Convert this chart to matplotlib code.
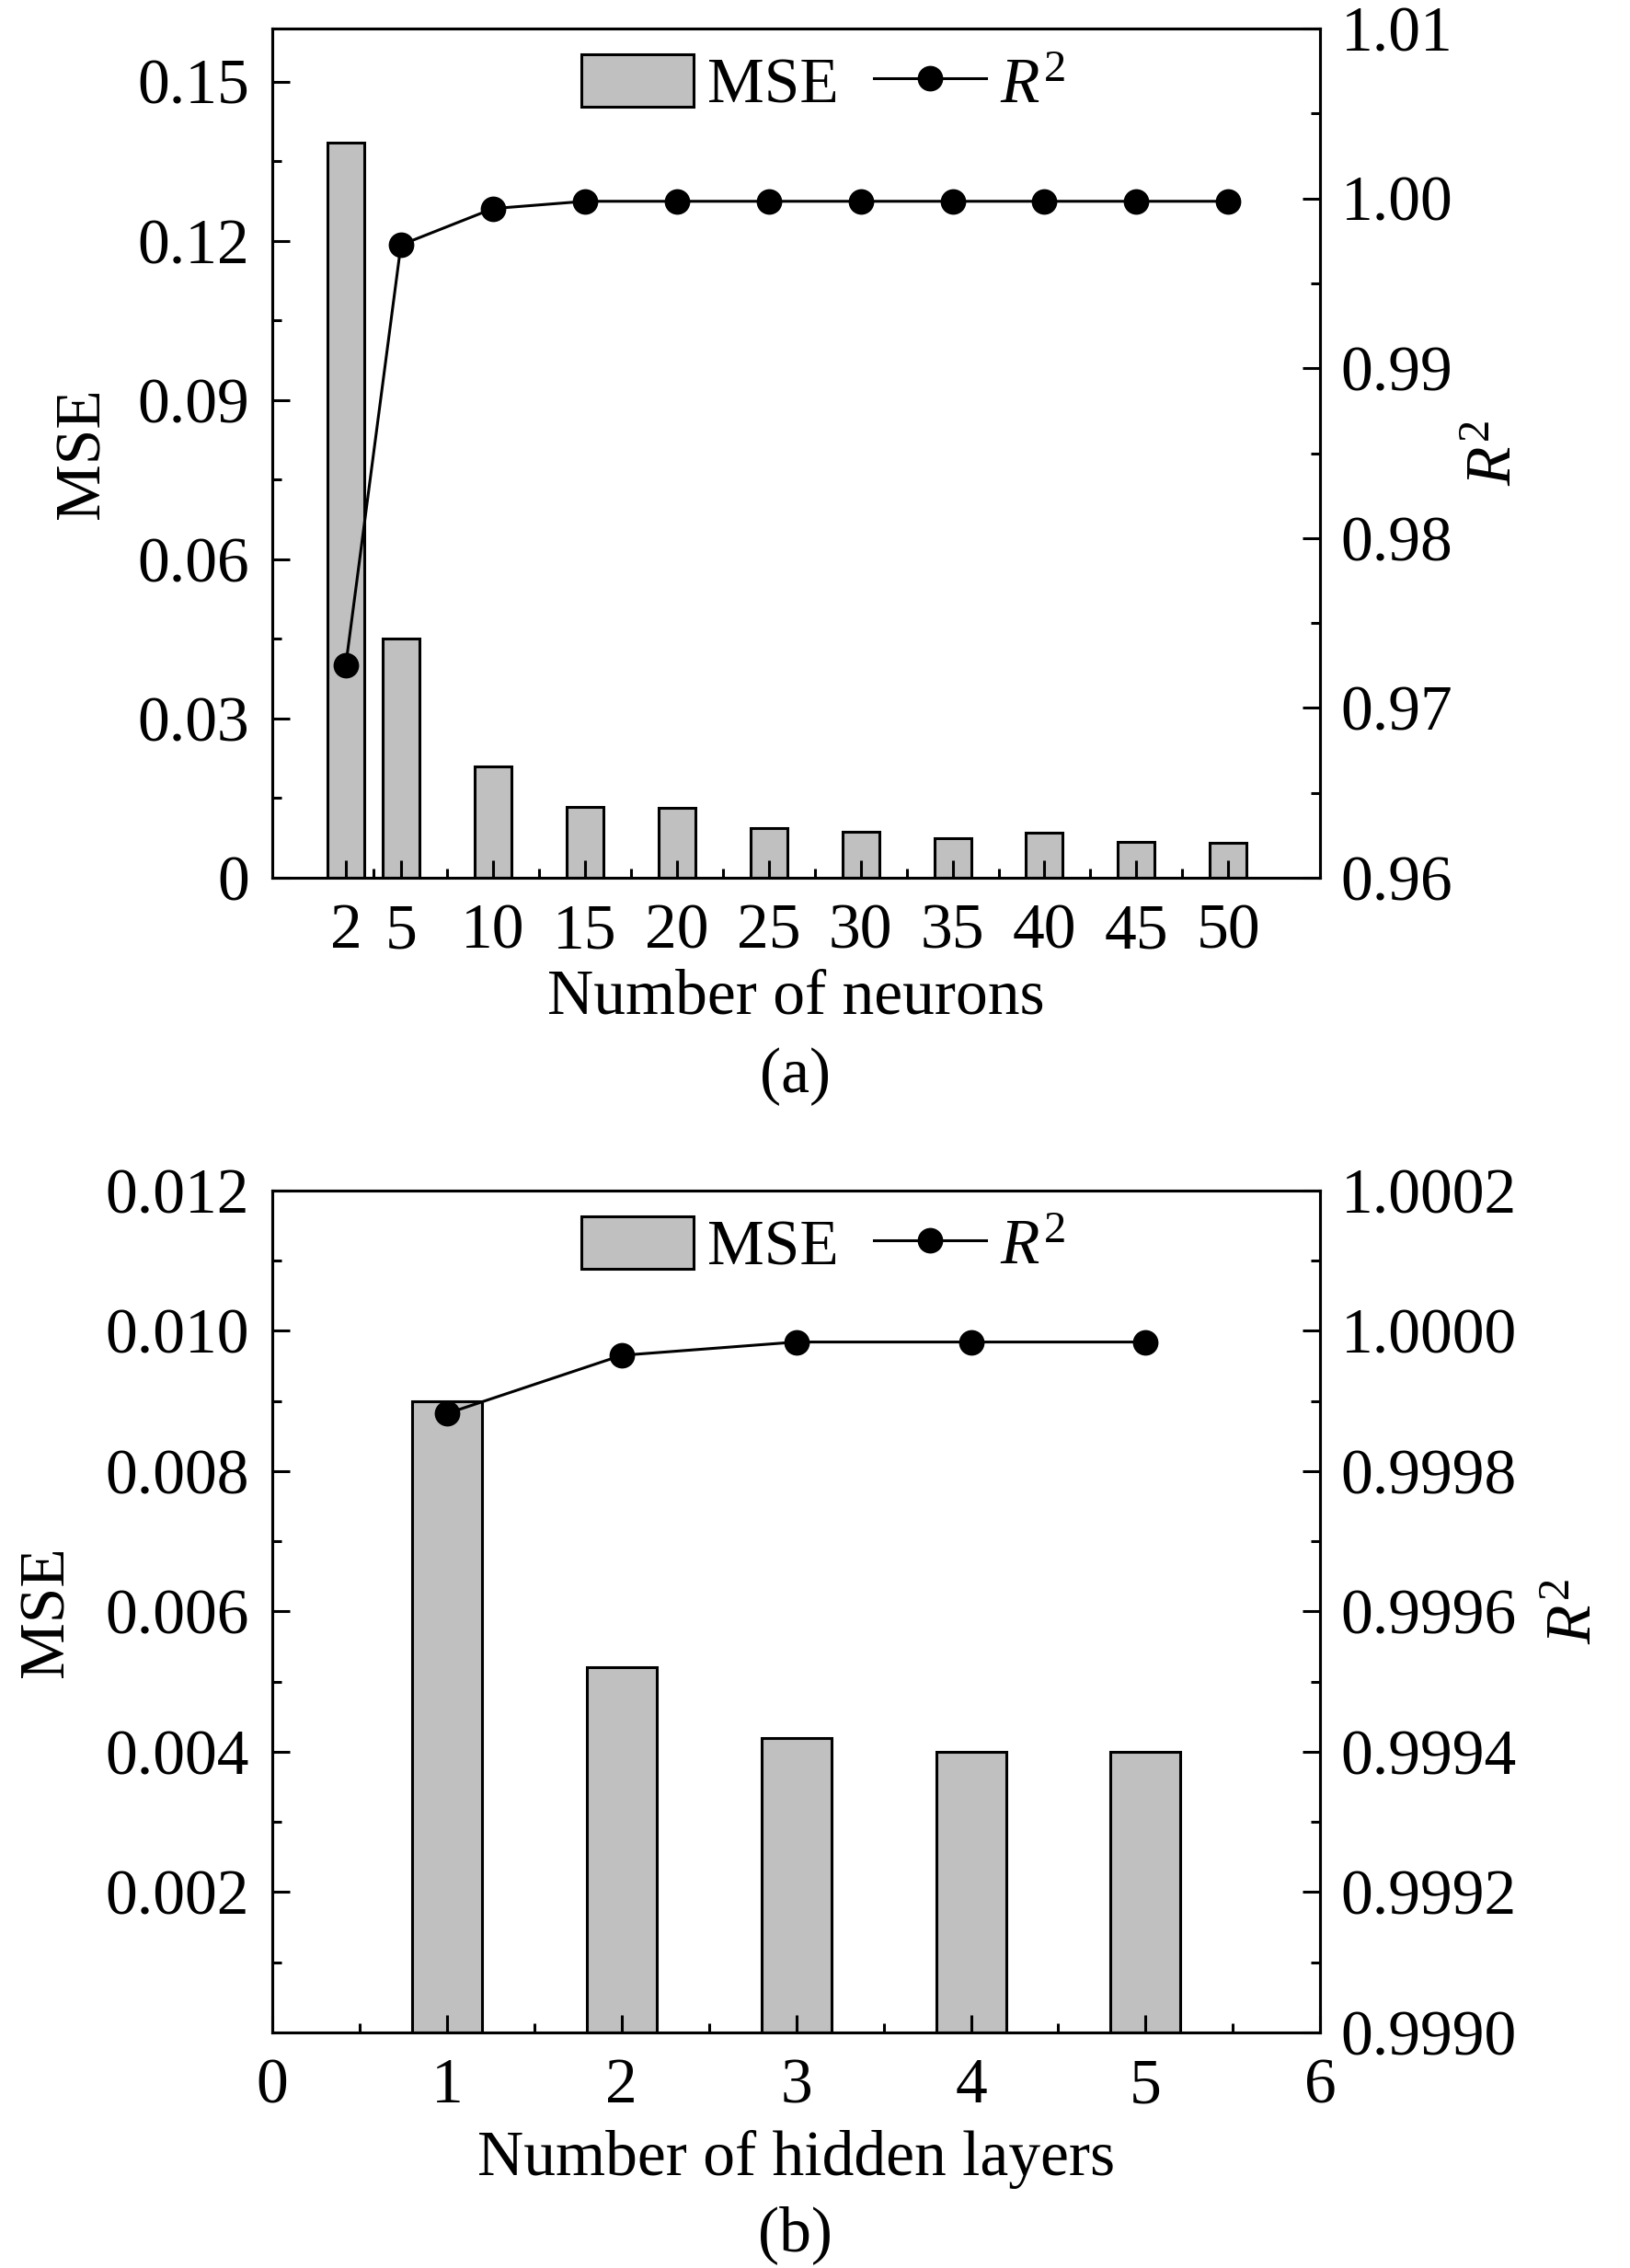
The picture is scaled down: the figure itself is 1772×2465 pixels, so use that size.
import matplotlib
matplotlib.use('Agg')
import matplotlib.pyplot as plt
from matplotlib.patches import Patch
from matplotlib.lines import Line2D
import numpy as np

plt.rcParams['font.family'] = ['Liberation Serif', 'DejaVu Serif']
plt.rcParams['mathtext.fontset'] = 'custom'
plt.rcParams['mathtext.rm'] = 'Liberation Serif'
plt.rcParams['mathtext.it'] = 'Liberation Serif:italic'
plt.rcParams['font.size'] = 25

# panel (a): number of neurons
neurons = [2, 5, 10, 15, 20, 25, 30, 35, 40, 45, 50]
mse_a = [0.1385, 0.045, 0.021, 0.0134, 0.0131, 0.0093, 0.0087, 0.0074, 0.0085, 0.0068, 0.0065]
r2_a = [0.9725, 0.99726, 0.99940, 0.99983, 0.99983, 0.99983, 0.99983, 0.99983, 0.99983, 0.99983, 0.99983]

# panel (b): number of hidden layers
layers = [1, 2, 3, 4, 5]
mse_b = [0.0090, 0.0052, 0.0042, 0.0040, 0.0040]
r2_b = [0.999882, 0.999965, 0.999984, 0.999984, 0.999984]

bar_col = '#c0c0c0'
R2 = r'$\mathit{R}^{\mathrm{2}}$'

fig = plt.figure(figsize=(8.86, 12.325), dpi=200)


def style(ax, right=False):
    for s in ax.spines.values():
        s.set_linewidth(1.1)
    ax.tick_params(which='both', direction='in', width=1.1, top=False)
    ax.tick_params(which='major', length=7)
    ax.tick_params(which='minor', length=3.5)
    if right:
        ax.tick_params(axis='y', which='both', left=False, right=True, pad=8)
    else:
        ax.tick_params(axis='y', which='both', right=False, pad=9)
        ax.tick_params(axis='x', which='both', pad=10)


def legend(ax):
    h = [Patch(facecolor=bar_col, edgecolor='black', linewidth=1.1, label='MSE'),
         Line2D([], [], color='black', lw=1.1, marker='o', markersize=9, label=R2)]
    ax.legend(handles=h, ncol=2, loc='upper center', bbox_to_anchor=(0.526, 1.0),
              frameon=False, borderaxespad=0.0, borderpad=0.4, handlelength=1.75,
              handleheight=0.9, handletextpad=0.22, columnspacing=0.55)


# ---- (a)
ax = fig.add_axes([0.167, 0.613, 0.643, 0.3744])
ax.bar(neurons, mse_a, width=2, color=bar_col, edgecolor='black', linewidth=1.1)
ax.set_xlim(-2, 55)
ax.set_ylim(0, 0.16)
ax.set_xticks(neurons)
ax.set_xticks([3.5] + list(np.arange(7.5, 50, 5)), minor=True)
ax.set_yticks([0, 0.03, 0.06, 0.09, 0.12, 0.15])
ax.set_yticklabels(['0', '0.03', '0.06', '0.09', '0.12', '0.15'])
ax.set_yticks(np.arange(0.015, 0.16, 0.03), minor=True)
style(ax)
ax.set_xlabel('Number of neurons')
ax.xaxis.set_label_coords(0.5, -0.142)
ax.xaxis.label.set_va('center')
ax.set_ylabel('MSE')
ax.yaxis.set_label_coords(-0.18, 0.5)
ax.yaxis.label.set_va('center')

ax2 = ax.twinx()
ax2.plot(neurons, r2_a, color='black', lw=1.1, marker='o', markersize=9)
ax2.set_ylim(0.96, 1.01)
ax2.set_yticks([0.96, 0.97, 0.98, 0.99, 1.00, 1.01])
ax2.set_yticklabels(['0.96', '0.97', '0.98', '0.99', '1.00', '1.01'])
ax2.set_yticks(np.arange(0.965, 1.01, 0.01), minor=True)
style(ax2, right=True)
ax2.set_ylabel(R2)
ax2.yaxis.set_label_coords(1.168, 0.5)
ax2.yaxis.label.set_va('center')
legend(ax2)
fig.text(0.488, 1 - 1170 / 2465, '(a)', ha='center', va='center')

# ---- (b)
bx = fig.add_axes([0.167, 0.1039, 0.643, 0.3712])
bx.bar(layers, mse_b, width=0.4, color=bar_col, edgecolor='black', linewidth=1.1)
bx.set_xlim(0, 6)
bx.set_ylim(0, 0.012)
bx.set_xticks(range(0, 7))
bx.set_xticks(np.arange(0.5, 6, 1), minor=True)
bx.set_yticks([0.002, 0.004, 0.006, 0.008, 0.010, 0.012])
bx.set_yticklabels(['0.002', '0.004', '0.006', '0.008', '0.010', '0.012'])
bx.set_yticks(np.arange(0.001, 0.012, 0.002), minor=True)
style(bx)
bx.set_xlabel('Number of hidden layers')
bx.xaxis.set_label_coords(0.5, -0.151)
bx.xaxis.label.set_va('center')
bx.set_ylabel('MSE')
bx.yaxis.set_label_coords(-0.214, 0.5)
bx.yaxis.label.set_va('center')

bx2 = bx.twinx()
bx2.plot(layers, r2_b, color='black', lw=1.1, marker='o', markersize=9)
bx2.set_ylim(0.9990, 1.0002)
bx2.set_yticks([0.9990, 0.9992, 0.9994, 0.9996, 0.9998, 1.0000, 1.0002])
bx2.set_yticklabels(['0.9990', '0.9992', '0.9994', '0.9996', '0.9998', '1.0000', '1.0002'])
bx2.set_yticks(np.arange(0.99910, 1.0002, 0.0002), minor=True)
style(bx2, right=True)
bx2.set_ylabel(R2)
bx2.yaxis.set_label_coords(1.244, 0.5)
bx2.yaxis.label.set_va('center')
legend(bx2)
fig.text(0.488, 1 - 2429 / 2465, '(b)', ha='center', va='center')

fig.savefig('out.png', dpi=200)
